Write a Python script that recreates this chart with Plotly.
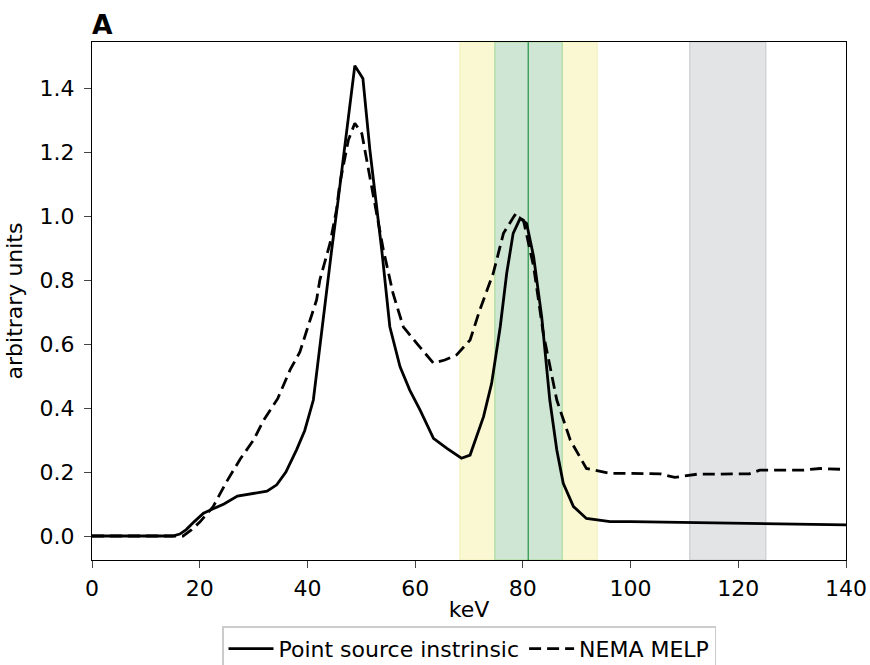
import plotly.graph_objects as go

# Point source intrinsic (solid)
ps_kev = [0, 5, 10, 15, 16.3, 17.5, 19, 20.7, 22.5, 24.5, 27, 30, 32.5, 34.3, 36, 38, 39.5, 41.1,
          42.2, 43.3, 44.5, 45.7, 47.0, 48.8, 50.3, 51.6, 53.8, 55.3, 57.2, 59.0, 60.9, 63.4, 65.9, 68.6,
          70.2, 71.4, 72.7, 74.2, 75.8, 77.0, 78.2, 79.5, 80.7, 82.0, 83.5, 85.0, 86.3, 87.5, 89.4,
          91.8, 96.2, 100, 110, 120, 130, 140]
ps_val = [0, 0, 0, 0, 0.006, 0.02, 0.045, 0.071, 0.085, 0.1, 0.125, 0.132, 0.14, 0.16, 0.2, 0.27, 0.33, 0.425,
          0.58, 0.74, 0.894, 1.05, 1.23, 1.47, 1.43, 1.206, 0.894, 0.654, 0.529, 0.456, 0.394, 0.305, 0.274, 0.243,
          0.253, 0.31, 0.373, 0.477, 0.654, 0.821, 0.946, 0.993, 0.977, 0.873, 0.685, 0.425, 0.269, 0.165, 0.092,
          0.055, 0.045, 0.045, 0.043, 0.040, 0.039, 0.035]

# NEMA MELP (dashed)
nema_kev = [0, 5, 10, 15, 16.9, 18.5, 20.1, 22.5, 25, 27.5, 30, 31.8, 34.5, 36.8, 38.6, 39.9, 41.7,
            42.3, 44.2, 45.4, 46.0, 47.6, 48.8, 50.1, 51.6, 54.1, 55.9, 57.8, 60.3, 63.4, 65.5, 67.7, 70.2,
            72.0, 74.5, 76.4, 78.5, 80.1, 82.0, 83.8, 86.3, 88.8, 91.8, 96.2, 100, 105.5, 108.2,
            112.3, 119.7, 122, 124.0, 132.1, 135.2, 140]
nema_val = [0, 0, 0, 0, 0.0, 0.02, 0.045, 0.092, 0.17, 0.24, 0.3, 0.36, 0.43, 0.52, 0.575, 0.644, 0.7375,
            0.80, 0.915, 1.02, 1.10, 1.2375, 1.29, 1.258, 1.123, 0.894, 0.758, 0.654, 0.602, 0.54, 0.55, 0.566, 0.6125,
            0.706, 0.821, 0.946, 1.003, 0.9875, 0.842, 0.633, 0.425, 0.30, 0.211, 0.196, 0.196, 0.194, 0.183,
            0.193, 0.194, 0.194, 0.206, 0.206, 0.211, 0.208]

yellow_band = [68.3, 93.8]
green_band = [74.8, 87.3]
center_line = 81
gray_band = [111, 125.1]

x_ticks = [0, 20, 40, 60, 80, 100, 120, 140]
y_ticks = [0.0, 0.2, 0.4, 0.6, 0.8, 1.0, 1.2, 1.4]

fig = go.Figure()
fig.add_trace(go.Scatter(x=ps_kev, y=ps_val, mode="lines", name="Point source instrinsic",
                         line=dict(color="black", width=2.8)))
fig.add_trace(go.Scatter(x=nema_kev, y=nema_val, mode="lines", name="NEMA MELP",
                         line=dict(color="black", width=2.8, dash="12px,6px")))

shapes = [
    dict(type="rect", xref="x", yref="paper", x0=yellow_band[0], x1=yellow_band[1], y0=0, y1=1,
         fillcolor="#faf8d3", line=dict(color="#f3f0b8", width=1), layer="below"),
    dict(type="rect", xref="x", yref="paper", x0=green_band[0], x1=green_band[1], y0=0, y1=1,
         fillcolor="#cfe6d5", line=dict(color="#b5dfa9", width=1.5), layer="below"),
    dict(type="line", xref="x", yref="paper", x0=center_line, x1=center_line, y0=0, y1=1,
         line=dict(color="#2e9a4c", width=1.3), layer="below"),
    dict(type="rect", xref="x", yref="paper", x0=gray_band[0], x1=gray_band[1], y0=0, y1=1,
         fillcolor="#e3e4e6", line=dict(color="#d2d3d6", width=1.5), layer="below"),
]

fig.update_layout(
    width=870, height=665,
    margin=dict(l=92, r=24, t=42, b=105, autoexpand=False),
    plot_bgcolor="white", paper_bgcolor="white",
    font=dict(family="DejaVu Sans", size=22, color="black"),
    shapes=shapes,
    showlegend=True,
    legend=dict(orientation="h", x=0.5, xanchor="center", y=-0.128, yanchor="top",
                bordercolor="#cccccc", borderwidth=1.5, font=dict(size=22),
                itemwidth=45),
    annotations=[dict(text="<b>A</b>", xref="paper", yref="paper", x=0, y=1.0, xanchor="left",
                      yanchor="bottom", showarrow=False, font=dict(size=26.5), yshift=0, xshift=-2)],
)
fig.update_xaxes(range=[0, 140], tickvals=x_ticks, ticks="outside", ticklen=7, tickwidth=1.3,
                 showline=True, linecolor="black", linewidth=1.3, mirror=True, showgrid=False,
                 zeroline=False, title=dict(text="keV", standoff=2, font=dict(size=22)),
                 tickfont=dict(size=22), ticklabelstandoff=1)
fig.update_yaxes(range=[-0.075, 1.544], tickvals=y_ticks, tickformat=".1f", ticks="outside",
                 ticklen=7, tickwidth=1.3, showline=True, linecolor="black", linewidth=1.3,
                 mirror=True, showgrid=False, zeroline=False,
                 title=dict(text="arbitrary units", standoff=10, font=dict(size=22)),
                 tickfont=dict(size=22), ticklabelstandoff=5)

fig.write_html("out.html")
